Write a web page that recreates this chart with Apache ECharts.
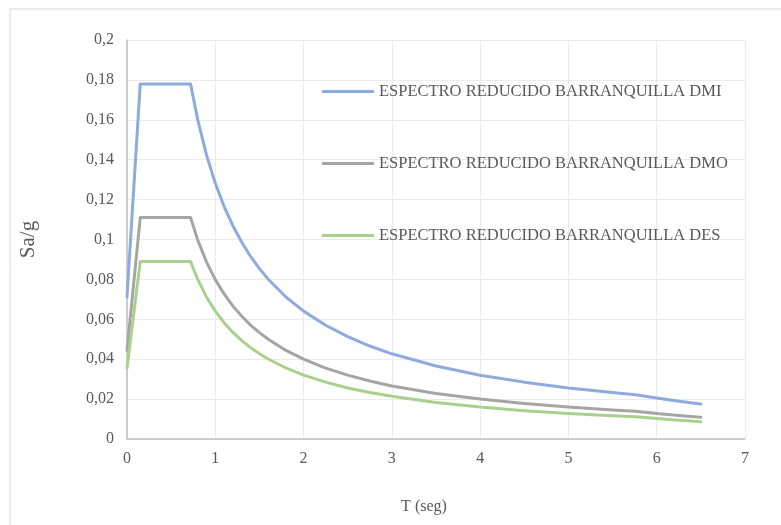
<!DOCTYPE html>
<html>
<head>
<meta charset="utf-8">
<script src="https://cdn.jsdelivr.net/npm/echarts@6/dist/echarts.min.js"></script>
<style>
  html, body { margin: 0; padding: 0; background: #ffffff; }
  #chart { width: 781px; height: 525px; }
</style>
</head>
<body>
<div id="chart"></div>
<script>
// periodo T (seg)
const periods = [0, 0.15, 0.72, 0.8, 0.9, 1.0, 1.1, 1.2, 1.3, 1.4, 1.5, 1.6, 1.8, 2.0, 2.25, 2.5, 2.75, 3.0, 3.5, 4.0, 4.5, 5.0, 5.5, 5.76, 6.0, 6.25, 6.5];

// Sa/g
const dmi = [0.0712, 0.178, 0.178, 0.1602, 0.1424, 0.1282, 0.1165, 0.1068, 0.0986, 0.0915, 0.0854, 0.0801, 0.0712, 0.0641, 0.0570, 0.0513, 0.0466, 0.0427, 0.0366, 0.0320, 0.0285, 0.0256, 0.0233, 0.0222, 0.0205, 0.0189, 0.0175];
const dmo = [0.0444, 0.111, 0.111, 0.0999, 0.0888, 0.0799, 0.0727, 0.0666, 0.0615, 0.0571, 0.0533, 0.0500, 0.0444, 0.0400, 0.0355, 0.0320, 0.0291, 0.0266, 0.0228, 0.0200, 0.0178, 0.0160, 0.0145, 0.0139, 0.0128, 0.0118, 0.0109];
const des = [0.0356, 0.089, 0.089, 0.0801, 0.0712, 0.0641, 0.0583, 0.0534, 0.0493, 0.0458, 0.0427, 0.0401, 0.0356, 0.0320, 0.0285, 0.0256, 0.0233, 0.0214, 0.0183, 0.0160, 0.0142, 0.0128, 0.0117, 0.0111, 0.0103, 0.0094, 0.0087];

const seriesNames = [
  'ESPECTRO REDUCIDO BARRANQUILLA DMI',
  'ESPECTRO REDUCIDO BARRANQUILLA DMO',
  'ESPECTRO REDUCIDO BARRANQUILLA DES'
];
const colors = ['#8faadc', '#a5a5a5', '#a9d18e'];

function pairs(values) {
  return periods.map((t, i) => [t, values[i]]);
}

function loadChart() {
  let chartDom = document.querySelector('#chart');
  let myChart = echarts.init(chartDom);
  const font = '"Liberation Serif", "Times New Roman", serif';

  let option = {
    animation: false,
    textStyle: {
      fontFamily: font,
      color: '#595959'
    },
    graphic: [
      {
        type: 'rect',
        shape: { x: 10, y: 9, width: 800, height: 600 },
        style: { fill: 'none', stroke: '#d9d9d9', lineWidth: 1 },
        silent: true
      }
    ],
    grid: {
      left: 127,
      right: 36,
      top: 40,
      bottom: 86
    },
    legend: {
      orient: 'vertical',
      left: 322,
      top: 83,
      padding: 0,
      itemGap: 55,
      itemWidth: 52,
      itemHeight: 3,
      icon: 'rect',
      textStyle: {
        fontFamily: font,
        fontSize: 16.5,
        color: '#595959',
        padding: [0, 0, 0, 0]
      },
      data: seriesNames
    },
    xAxis: {
      type: 'value',
      min: 0,
      max: 7,
      interval: 1,
      name: 'T (seg)',
      nameLocation: 'middle',
      nameGap: 60,
      nameTextStyle: { fontFamily: font, fontSize: 16, color: '#595959', padding: [0, 24, 0, 0] },
      axisLine: { show: true, onZero: false, lineStyle: { color: '#bfbfbf', width: 1.5 } },
      axisTick: { show: false },
      axisLabel: { fontFamily: font, fontSize: 16, color: '#595959', margin: 12 },
      splitLine: { show: true, lineStyle: { color: '#ebebeb', width: 1 } }
    },
    yAxis: {
      type: 'value',
      min: 0,
      max: 0.2,
      interval: 0.02,
      name: 'Sa/g',
      nameLocation: 'middle',
      nameGap: 88,
      nameRotate: 90,
      nameTextStyle: { fontFamily: font, fontSize: 21, color: '#595959' },
      axisLine: { show: true, lineStyle: { color: '#bfbfbf', width: 1.5 } },
      axisTick: { show: false },
      axisLabel: {
        fontFamily: font,
        fontSize: 16,
        color: '#595959',
        margin: 13,
        formatter: (v) => parseFloat(v.toFixed(2)).toString().replace('.', ',')
      },
      splitLine: { show: true, lineStyle: { color: '#ebebeb', width: 1 } }
    },
    series: [dmi, dmo, des].map((values, i) => ({
      name: seriesNames[i],
      type: 'line',
      data: pairs(values),
      showSymbol: false,
      smooth: false,
      color: colors[i],
      lineStyle: { width: 3, color: colors[i], cap: 'round', join: 'round' }
    }))
  };

  myChart.setOption(option);
}

document.addEventListener('DOMContentLoaded', () => {
  loadChart();
});
</script>
</body>
</html>
